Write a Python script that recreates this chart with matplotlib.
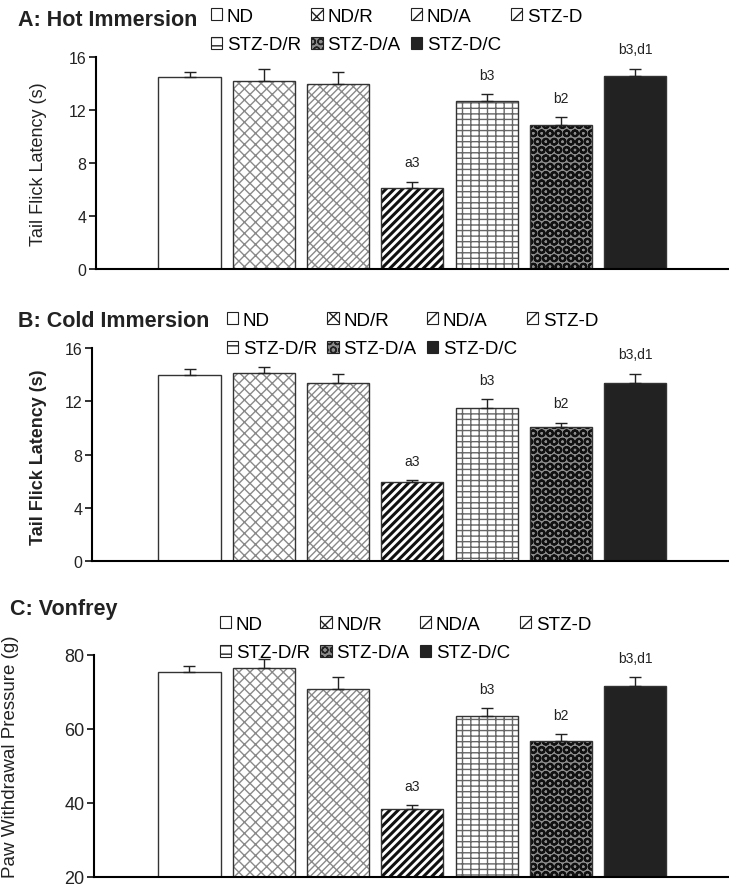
import numpy as np
import matplotlib.pyplot as plt
from matplotlib.patches import Patch

plt.rcParams['font.family'] = ['Liberation Sans', 'DejaVu Sans']
plt.rcParams['hatch.linewidth'] = 1.0

groups = ['ND', 'ND/R', 'ND/A', 'STZ-D', 'STZ-D/R', 'STZ-D/A', 'STZ-D/C']
sig = ['', '', '', 'a3', 'b3', 'b2', 'b3,d1']

hot_mean = [14.5, 14.2, 14.0, 6.1, 12.7, 10.9, 14.6]
hot_sem = [0.35, 0.9, 0.85, 0.5, 0.5, 0.55, 0.5]
cold_mean = [14.0, 14.1, 13.4, 5.9, 11.5, 10.1, 13.4]
cold_sem = [0.45, 0.45, 0.65, 0.15, 0.65, 0.3, 0.65]
vf_mean = [75.4, 76.5, 70.8, 38.4, 63.5, 56.8, 71.7]
vf_sem = [1.6, 2.4, 3.2, 1.0, 2.1, 1.8, 2.3]

# fill, hatch, hatch colour, hatch width
styles = [
    ('white', '', '#888888', 1.0),
    ('white', 'xxx', '#8a8a8a', 1.0),
    ('white', '///xx', '#8a8a8a', 1.0),
    ('white', '////', '#111111', 2.2),
    ('white', '---||', '#666666', 1.0),
    ('#8c8c8c', 'OO', '#111111', 1.5),
    ('#222222', '', '#222222', 1.0),
]

W, H = 729, 887
fig = plt.figure(figsize=(W / 100, H / 100), dpi=100)

x = np.arange(len(groups))


def panel(left_px, top_px, bot_px, mean, sem, yticks, ylabel, lab_bold, lab_size,
          tick_size, lab_xy_px, title, title_xy, leg_xy, sig_size):
    ax = fig.add_axes([left_px / W, 1 - bot_px / H, (W - left_px) / W, (bot_px - top_px) / H])
    bars = ax.bar(x, mean, width=0.835, linewidth=0)
    for b, (fc, h, hc, hw) in zip(bars, styles):
        b.set_facecolor(fc)
        b.set_hatch(h)
        b.set_edgecolor(hc)
        if hasattr(b, 'set_hatch_linewidth'):
            b.set_hatch_linewidth(hw)
    ax.bar(x, mean, width=0.835, fill=False, edgecolor='#333333', linewidth=1.0)
    ax.errorbar(x, mean, yerr=[np.zeros(len(x)), sem], fmt='none', ecolor='#222222',
                elinewidth=1.0, capsize=4, capthick=1.0)
    for xi, m, s, t in zip(x, mean, sem, sig):
        if t:
            ax.annotate(t, (xi, m + s), xytext=(0, 9), textcoords='offset points',
                        ha='center', va='bottom', fontsize=sig_size, color='#222222')
    ax.set_xlim(-(189.5 - left_px) / 74.3, (W - 189.5) / 74.3)
    ax.set_ylim(yticks[0], yticks[-1])
    ax.set_yticks(yticks)
    ax.set_xticks([])
    for s in ['top', 'right']:
        ax.spines[s].set_visible(False)
    ax.spines['left'].set_linewidth(1.5)
    ax.spines['bottom'].set_linewidth(1.5)
    ax.tick_params(axis='y', direction='out', length=5, width=1.3, pad=2,
                   labelsize=tick_size, colors='#222222')
    ax.set_ylabel(ylabel, fontsize=lab_size, fontweight='bold' if lab_bold else 'normal',
                  color='#222222')
    ax.yaxis.set_label_coords((lab_xy_px[0] - left_px) / (W - left_px),
                              (bot_px - lab_xy_px[1]) / (bot_px - top_px))
    fig.text(title_xy[0] / W, 1 - title_xy[1] / H, title, fontsize=15.5, fontweight='bold',
             va='center', ha='left', color='#222222')
    handles = [Patch(facecolor=fc, edgecolor='#222222', hatch=h[:2], linewidth=0.8)
               for fc, h, hc, hw in styles]
    order = [0, 4, 1, 5, 2, 6, 3]
    ax.legend([handles[i] for i in order], [groups[i] for i in order], ncol=4,
              loc='upper left', bbox_to_anchor=(leg_xy[0] / W, 1 - leg_xy[1] / H),
              bbox_transform=fig.transFigure, frameon=False, fontsize=13.5,
              handlelength=0.6, handleheight=0.6, handletextpad=0.25,
              columnspacing=0.55, labelspacing=0.6, borderpad=0, borderaxespad=0)
    return ax


panel(96, 58, 270, hot_mean, hot_sem, [0, 4, 8, 12, 16], 'Tail Flick Latency (s)',
      False, 13, 11.5, (47, 164), 'A: Hot Immersion', (18, 20), (211, 9), 10)
panel(92, 349, 562, cold_mean, cold_sem, [0, 4, 8, 12, 16], 'Tail Flick Latency (s)',
      True, 13, 11.5, (47, 457), 'B: Cold Immersion', (18, 322), (227, 313), 10)
panel(94, 656, 878, vf_mean, vf_sem, [20, 40, 60, 80], 'Paw Withdrawal Pressure (g)',
      False, 13.5, 13, (19, 757), 'C: Vonfrey', (10, 610), (220, 617), 10)

fig.savefig('out.png', dpi=100)
